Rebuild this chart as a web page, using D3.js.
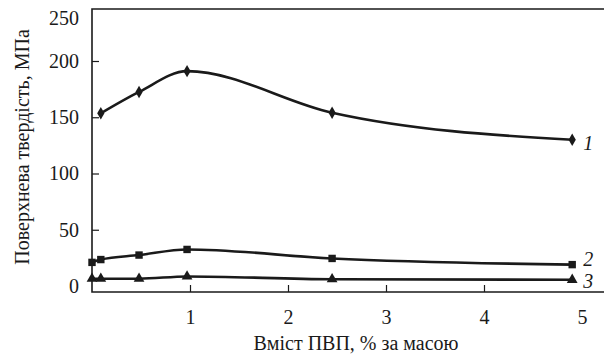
<!DOCTYPE html>
<html>
<head>
<meta charset="utf-8">
<script src="https://cdn.jsdelivr.net/npm/d3@7"></script>
</head>
<body style="margin:0">
<svg id="plot" width="606" height="360"></svg>
<script>
// values
const xTicks = [1, 2, 3, 4, 5];
const yTicks = [0, 50, 100, 150, 200, 250];
const x1 = [0.09, 0.48, 0.97, 2.45, 4.9];
const s1 = [153.5, 172.5, 191, 154, 130];
const x23 = [0, 0.09, 0.48, 0.97, 2.45, 4.9];
const s2 = [21, 23.5, 27.5, 32.5, 24.5, 19];
const s3 = [6.5, 6.5, 6.5, 8.5, 6, 5.5];
const seriesNames = ['1', '2', '3'];
const xTitle = 'Вміст ПВП, % за масою';
const yTitle = 'Поверхнева твердість, МПа';

const ink = '#1a1a1a';
const fams = ['Liberation Serif'];
const frameL = 92, frameR = 604, frameT = 9, frameB = 292;

const svg = d3.select('#plot');

const x = d3.scaleLinear().domain([0, 5]).range([frameL, 582]);
// the printed axis is not quite linear at the top label
const y = d3.scaleLinear().domain([0, 200, 250]).range([286, 61, 18]);

function serifText(sel) {
  sel.style('font-family', () => `"${fams[0]}"`, 'important');
}

// frame: top, left, bottom
svg.append('path')
  .attr('d', `M${frameR},${frameT}H${frameL}V${frameB}H${frameR}`)
  .attr('fill', 'none')
  .attr('stroke', ink)
  .attr('stroke-width', 1.6);

// y axis
const yAxis = svg.append('g')
  .attr('transform', `translate(${frameL},0)`)
  .call(d3.axisLeft(y).tickValues(yTicks).tickFormat(d3.format('d')).tickSize(-7).tickPadding(13));
yAxis.attr('font-family', null).attr('font-size', null);
yAxis.select('.domain').remove();
yAxis.selectAll('line').attr('stroke', ink).attr('stroke-width', 1.2)
  .filter(d => d === 0 || d === 250).remove();
yAxis.selectAll('text').attr('font-size', 20).attr('fill', ink).call(serifText);

// x axis
const xAxis = svg.append('g')
  .attr('transform', `translate(0,${frameB})`)
  .call(d3.axisBottom(x).tickValues(xTicks).tickFormat(d3.format('d')).tickSize(-7).tickPadding(18));
xAxis.attr('font-family', null).attr('font-size', null);
xAxis.select('.domain').remove();
xAxis.selectAll('line').attr('stroke', ink).attr('stroke-width', 1.2)
  .filter(d => d === 5).remove();
xAxis.selectAll('text').attr('font-size', 20).attr('fill', ink).call(serifText);

// curves
const line = d3.line().x(d => x(d[0])).y(d => y(d[1])).curve(d3.curveMonotoneX);
const series = [
  { name: seriesNames[0], pts: d3.zip(x1, s1), marker: d3.symbolDiamond, size: 45, dy: 3 },
  { name: seriesNames[1], pts: d3.zip(x23, s2), marker: d3.symbolSquare, size: 55, dy: -6 },
  { name: seriesNames[2], pts: d3.zip(x23, s3), marker: d3.symbolTriangle, size: 50, dy: 1 }
];

series.forEach(s => {
  svg.append('path')
    .attr('d', line(s.pts))
    .attr('fill', 'none')
    .attr('stroke', ink)
    .attr('stroke-width', 2.6);
  svg.selectAll(null)
    .data(s.pts)
    .enter()
    .append('path')
    .attr('d', d3.symbol().type(s.marker).size(s.size))
    .attr('transform', d => `translate(${x(d[0])},${y(d[1])})`)
    .attr('fill', ink);
  const last = s.pts[s.pts.length - 1];
  svg.append('text')
    .attr('x', x(last[0]) + 11)
    .attr('y', y(last[1]) + s.dy)
    .attr('dy', '0.35em')
    .attr('fill', ink)
    .attr('font-size', 20)
    .attr('font-style', 'italic')
    .call(serifText)
    .text(s.name);
});

// titles
svg.append('text')
  .attr('x', 356)
  .attr('y', 350)
  .attr('text-anchor', 'middle')
  .attr('fill', ink)
  .attr('font-size', 20)
  .call(serifText)
  .text(xTitle);

svg.append('text')
  .attr('transform', 'translate(29,147) rotate(-90)')
  .attr('text-anchor', 'middle')
  .attr('fill', ink)
  .attr('font-size', 20)
  .call(serifText)
  .text(yTitle);
</script>
</body>
</html>
